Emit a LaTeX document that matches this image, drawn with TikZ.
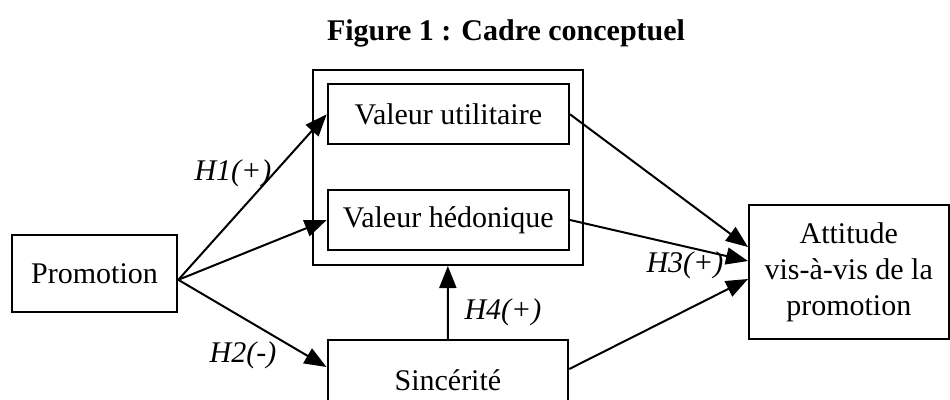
\documentclass[tikz,border=0pt]{standalone}
\usepackage{fontspec}
\setmainfont{Liberation Serif}
\usetikzlibrary{arrows.meta,calc}
\begin{document}
\begin{tikzpicture}[x=1pt,y=-1pt,
  box/.style={draw,line width=2pt,inner sep=0pt,font=\fontsize{30}{36}\selectfont,align=center},
  conn/.style={line width=2pt,-{Triangle[length=22pt,width=17pt]}},
  lab/.style={font=\fontsize{30}{34}\selectfont\itshape,inner sep=0pt}]
\useasboundingbox (0,0) rectangle (950,399);
\node[font=\fontsize{30}{34}\selectfont\bfseries,inner sep=0pt] (title) at (506,33) {Figure 1 : Cadre conceptuel};
\node[box,minimum width=165.6pt,minimum height=76.7pt] (promo) at (94.5,273.3) {Promotion};
\node[box,minimum width=270.3pt,minimum height=195pt] (outer) at (447.85,167.5) {};
\node[box,minimum width=241.3pt,minimum height=60pt] (vu) at (448.35,114.3) {Valeur utilitaire};
\node[box,minimum width=241.3pt,minimum height=60pt] (vh) at (448.35,220) {Valeur hédonique};
\node[box,minimum width=240.8pt,minimum height=80pt] (sinc) at (447.9,380) {Sincérité};
\node[box,minimum width=199.5pt,minimum height=134.3pt] (att) at (848.75,272.15) {Attitude\\vis-à-vis de la\\promotion};
\coordinate (p) at ($(promo.east)+(0,6.5)$);
\draw[conn] (p) -- (vu.west);
\draw[conn] (p) -- (vh.west);
\draw[conn] (p) -- ($(sinc.north west)+(0,28)$);
\draw[conn] (vu.east) -- ($(att.north west)+(0,43)$);
\draw[conn] (vh.east) -- ($(att.north west)+(0,57)$);
\draw[conn] ($(sinc.north east)+(0,30)$) -- ($(att.north west)+(0,75)$);
\draw[conn] (sinc.north) -- (outer.south);
\node[lab] (h1) at (233,173) {H1(+)};
\node[lab] (h2) at (243,355) {H2(-)};
\node[lab] (h3) at (685,265) {H3(+)};
\node[lab] (h4) at (503,312) {H4(+)};
\end{tikzpicture}
\end{document}
